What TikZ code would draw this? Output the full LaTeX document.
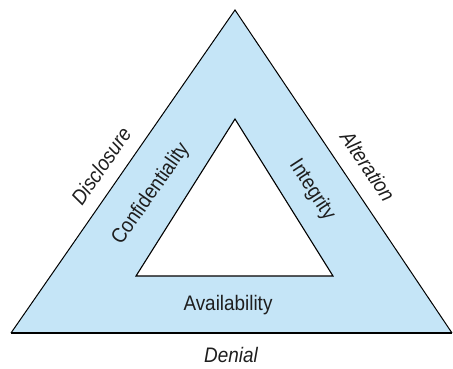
\documentclass[tikz,border=0pt]{standalone}
\usepackage{fontspec}
\setmainfont{Liberation Sans}[FakeStretch=0.9]
\definecolor{band}{RGB}{197,229,247}
\definecolor{txt}{RGB}{30,30,30}
\definecolor{baseline}{RGB}{90,100,108}
\begin{document}
\begin{tikzpicture}[x=1pt,y=-1pt,
  lbl/.style={font=\fontsize{21}{24}\selectfont, text=txt, inner sep=0pt},
  outlbl/.style={lbl, font=\fontsize{21}{24}\selectfont\itshape}]
\useasboundingbox (0,0) rectangle (453,369);
\coordinate (oT) at (235,10);
\coordinate (oL) at (11,333);
\coordinate (oR) at (452,333);
\coordinate (iT) at (235,119);
\coordinate (iL) at (136,276);
\coordinate (iR) at (333,276);
\fill[band] (oT) -- (oL) -- (oR) -- cycle;
\draw[black, line width=1pt, line join=miter] (oL) -- (oT) -- (oR);
\draw[baseline, line width=2.2pt] (oL) -- (oR);
\filldraw[fill=white, draw=black, line width=1.1pt] (iT) -- (iL) -- (iR) -- cycle;
\node[outlbl, rotate=55.3] (disc) at (101,166) {Disclosure};
\node[outlbl, rotate=-56] (alt) at (368,166) {Alteration};
\node[outlbl] (den) at (231,355) {Denial};
\node[lbl, rotate=55] (conf) at (151,194) {Confidentiality};
\node[lbl, rotate=-57] (integ) at (312,190) {Integrity};
\node[lbl] (avail) at (228,305) {Availability};
\end{tikzpicture}
\end{document}
